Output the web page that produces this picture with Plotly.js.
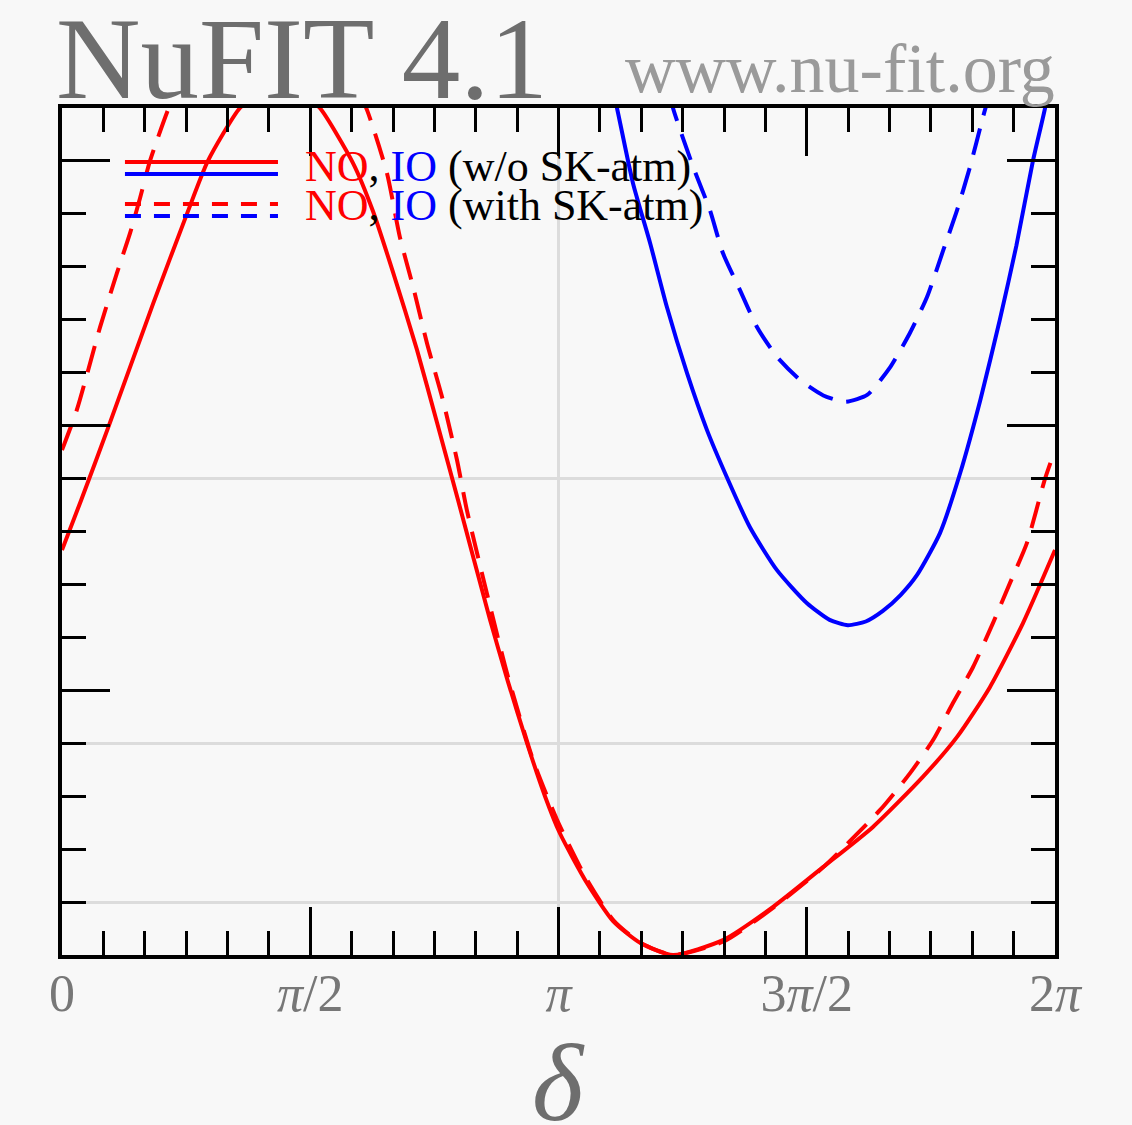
<!DOCTYPE html>
<html><head><meta charset="utf-8">
<script src="https://cdn.plot.ly/plotly-3.0.1.min.js"></script>
<style>html,body{margin:0;padding:0;background:#f8f8f8}</style>
</head><body><div id="chart" style="width:1132px;height:1125px"></div>
<script>
// delta_CP in degrees, Delta chi^2 values
const deltaNOnoSK = [0, 7, 17, 33, 45.3, 52.9, 64.5, 72, 79.5, 86.5, 93.5, 105.5, 112.75, 120, 128.7, 136, 143.6, 155.2, 161.7, 168.6, 175.1, 180.5, 190.3, 199.8, 209.6, 221.5, 239.6, 257.8, 275.9, 294, 312, 324.5, 336.4, 348.4, 360];
const chiNOnoSK   = [7.65, 8.6, 10.0, 12.3, 14.0, 15.0, 16.0, 16.3, 16.42, 16.3, 16.0, 14.96, 14.05, 12.9, 11.43, 10.05, 8.59, 6.33, 5.16, 4.0, 3.0, 2.30, 1.36, 0.64, 0.23, 0.0, 0.28, 0.91, 1.66, 2.42, 3.36, 4.12, 5.06, 6.27, 7.65];

const deltaNOSK = [0, 5.4, 13.8, 19.9, 24.7, 28.3, 31.9, 38.4, 50, 62, 74, 86, 98, 110.6, 117.8, 122.5, 127.3, 132.3, 138.1, 143.2, 146.8, 154, 161.3, 170.8, 179.5, 190, 200, 210, 221.5, 240, 258, 276, 296.6, 307.4, 315.8, 323, 330.3, 337.5, 343.7, 349.8, 356.4, 360];
const chiNOSK   = [9.54, 10.3, 11.86, 12.88, 13.64, 14.3, 15.0, 15.96, 17.4, 18.3, 18.6, 18.3, 17.4, 15.96, 14.77, 13.56, 12.62, 11.56, 10.48, 9.35, 8.4, 6.84, 5.33, 3.68, 2.55, 1.45, 0.65, 0.22, 0.0, 0.26, 0.9, 1.66, 2.74, 3.43, 4.06, 4.76, 5.44, 6.27, 7.03, 7.78, 9.0, 9.54];

const deltaIOnoSK = [196, 201.2, 207, 213.2, 219.3, 226.6, 233.8, 241, 249.4, 259.2, 270, 278.3, 284.9, 291.4, 297.6, 304, 310, 318.3, 325.6, 333, 340, 346, 352, 356.4, 360];
const chiIOnoSK   = [17.2, 16.0, 14.58, 13.45, 12.24, 10.99, 9.92, 9.03, 8.08, 7.27, 6.65, 6.33, 6.23, 6.3, 6.5, 6.8, 7.18, 7.97, 9.1, 10.5, 12.0, 13.4, 15.0, 16.0, 17.0];

const deltaIOSK = [217, 221.5, 228.8, 234.9, 239.6, 245.8, 252, 259.2, 267.6, 276, 284, 291.9, 300.2, 307.4, 313.6, 319.4, 324.5, 329.2, 333.9, 338];
const chiIOSK   = [17.0, 16.0, 14.89, 14.07, 13.26, 12.56, 11.86, 11.3, 10.86, 10.57, 10.45, 10.58, 11.1, 11.75, 12.43, 13.3, 14.07, 14.89, 15.83, 16.6];

const xTickVals = [0, 90, 180, 270, 360];
const xTickText = ['0', '<i>π</i>/2', '<i>π</i>', '3<i>π</i>/2', '2<i>π</i>'];
const yGridVals = [1, 4, 9];
const xGridVals = [180];

const RED = '#ff0000', BLUE = '#0000ff';
const SERIF = 'Liberation Serif, Times New Roman, serif';
const DASH = '27px,14px';

function curve(x, y, color, dash) {
  return {x: x, y: y, type: 'scatter', mode: 'lines',
    line: {color: color, width: 4, dash: dash, shape: 'spline', smoothing: 0.6},
    hoverinfo: 'skip', showlegend: false, xaxis: 'x', yaxis: 'y'};
}

const traces = [
  curve(deltaNOnoSK, chiNOnoSK, RED, 'solid'),
  curve(deltaNOSK, chiNOSK, RED, DASH),
  curve(deltaIOnoSK, chiIOnoSK, BLUE, 'solid'),
  curve(deltaIOSK, chiIOSK, BLUE, DASH),
  {x: [], y: [], type: 'scatter', mode: 'lines', xaxis: 'x2', yaxis: 'y2', showlegend: false, hoverinfo: 'skip'}
];

// legend sample geometry in paper coords
const L0 = 0.0634, L1 = 0.2175;
function legLine(y, color, dash) {
  return {type: 'line', xref: 'paper', yref: 'paper', x0: L0, x1: L1, y0: y, y1: y,
    line: {color: color, width: 4, dash: dash === 'solid' ? 'solid' : '16px,13px'}};
}

const layout = {
  width: 1132, height: 1125,
  margin: {l: 62, r: 77, t: 108, b: 170, pad: 0},
  paper_bgcolor: '#f8f8f8', plot_bgcolor: '#f8f8f8',
  showlegend: false,
  xaxis: {range: [0, 360], tickmode: 'array', tickvals: xGridVals, showgrid: true,
    gridcolor: '#dcdcdc', gridwidth: 3, showticklabels: false, ticks: '', zeroline: false, showline: false, fixedrange: true},
  yaxis: {range: [0, 16], tickmode: 'array', tickvals: yGridVals, showgrid: true,
    gridcolor: '#dcdcdc', gridwidth: 3, showticklabels: false, ticks: '', zeroline: false, showline: false, fixedrange: true},
  xaxis2: {overlaying: 'x', anchor: 'y2', side: 'bottom', range: [0, 360],
    tickmode: 'array', tickvals: xTickVals, ticktext: xTickText,
    ticks: 'inside', ticklen: 48, tickwidth: 3, tickcolor: '#000',
    showline: true, linewidth: 4, linecolor: '#000', mirror: 'allticks',
    showgrid: false, zeroline: false, ticklabelstandoff: -10,
    minor: {tickmode: 'linear', tick0: 0, dtick: 15, ticks: 'inside', ticklen: 24, tickwidth: 3, tickcolor: '#000', showgrid: false},
    tickfont: {family: SERIF, size: 52, color: '#777777'}},
  yaxis2: {overlaying: 'y', anchor: 'x2', side: 'left', range: [0, 16],
    tickmode: 'linear', tick0: 0, dtick: 5,
    ticks: 'inside', ticklen: 48, tickwidth: 3, tickcolor: '#000',
    showline: true, linewidth: 4, linecolor: '#000', mirror: 'allticks',
    showgrid: false, zeroline: false, showticklabels: false,
    minor: {tickmode: 'linear', tick0: 0, dtick: 1, ticks: 'inside', ticklen: 24, tickwidth: 3, tickcolor: '#000', showgrid: false}},
  shapes: [
    legLine(0.9362, RED, 'solid'),
    legLine(0.9221, BLUE, 'solid'),
    legLine(0.8867, RED, 'dash'),
    legLine(0.8725, BLUE, 'dash')
  ],
  annotations: [
    {text: 'NuFIT 4.1', xref: 'paper', yref: 'paper', x: -0.008, y: 1.058, xanchor: 'left', yanchor: 'middle',
      showarrow: false, font: {family: SERIF, size: 117, color: '#6e6e6e'}},
    {text: 'www.nu-fit.org', xref: 'paper', yref: 'paper', x: 1.002, y: 1.047, xanchor: 'right', yanchor: 'middle',
      showarrow: false, font: {family: SERIF, size: 70, color: '#9a9a9a'}},
    {text: '<i>δ</i>', xref: 'paper', yref: 'paper', x: 0.5, y: -0.1511, xanchor: 'center', yanchor: 'middle',
      showarrow: false, font: {family: SERIF, size: 110, color: '#6e6e6e'}},
    {text: '<span style="color:#ff0000">NO</span>, <span style="color:#0000ff">IO</span> (w/o SK-atm)',
      xref: 'paper', yref: 'paper', x: 0.2427, y: 0.9315, xanchor: 'left', yanchor: 'middle',
      showarrow: false, font: {family: SERIF, size: 44, color: '#000'}},
    {text: '<span style="color:#ff0000">NO</span>, <span style="color:#0000ff">IO</span> (with SK-atm)',
      xref: 'paper', yref: 'paper', x: 0.2427, y: 0.8843, xanchor: 'left', yanchor: 'middle',
      showarrow: false, font: {family: SERIF, size: 44, color: '#000'}}
  ]
};

Plotly.newPlot('chart', traces, layout, {displayModeBar: false, staticPlot: true});
</script></body></html>
